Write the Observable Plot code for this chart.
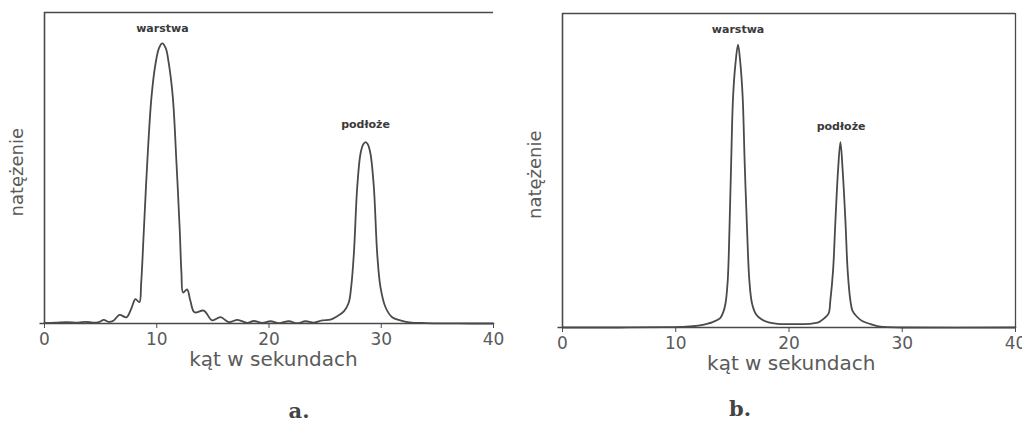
<!DOCTYPE html>
<html>
<head>
<meta charset="utf-8">
<script src="https://cdn.jsdelivr.net/npm/d3@7"></script>
<script src="https://cdn.jsdelivr.net/npm/@observablehq/plot@0.6"></script>
<style>
  html, body { margin: 0; padding: 0; background: #fff; }
  #wrap { position: relative; width: 1022px; height: 421px; overflow: hidden; background: #fff; }
  .cap { position: absolute; font-family: "DejaVu Serif", "Liberation Serif", serif; font-weight: bold; font-size: 21px; color: #444; transform: translate(-50%, -50%); }
</style>
</head>
<body>
<div id="wrap"></div>
<script>
// Panel a: angle (arc seconds) and intensity (arbitrary units, peak = 100)
const xA = [0, 1, 2, 3, 3.7, 4.3, 4.84, 5.28, 5.7, 6.17, 6.68, 7.3, 7.75, 8.1, 8.45, 8.61, 8.85, 9.15, 9.53, 9.89, 10.2, 10.49, 10.8, 11.07, 11.43, 11.76, 12.05, 12.2, 12.35, 12.7, 13.0, 13.36, 14.19, 14.94, 15.68, 16.42, 17.2, 18.06, 18.65, 19.4, 20.13, 20.87, 21.77, 22.5, 23.25, 24.0, 24.74, 25.48, 26.07, 26.67, 27.1, 27.32, 27.56, 27.86, 28.15, 28.4, 28.6, 28.8, 29.04, 29.34, 29.64, 29.93, 30.38, 30.97, 31.7, 32.5, 34, 36, 38, 40];
const yA = [0.2, 0.3, 0.5, 0.3, 0.6, 0.3, 0.5, 1.3, 0.6, 1.1, 3.1, 2.2, 5.5, 8.7, 7.6, 14.3, 33.2, 57.1, 80.8, 92.7, 98.3, 100, 98.3, 92.9, 80.8, 57.1, 33.2, 18, 11, 12.2, 8, 4.0, 4.6, 1.1, 2.25, 0.5, 1.3, 0.25, 0.9, 0.2, 0.8, 0.1, 0.8, 0.1, 0.8, 0.3, 1.1, 1.4, 2.6, 4.3, 7.4, 13, 24.9, 48.7, 60.6, 64, 64.75, 64, 60.6, 48.7, 24.9, 13, 5.8, 2.25, 1.1, 0.4, 0.15, 0.05, 0, 0];

// Panel b
const xB = [0, 5, 9, 10.9, 12, 12.77, 13.2, 13.9, 14.2, 14.39, 14.59, 14.74, 14.89, 15.06, 15.27, 15.5, 15.71, 15.91, 16.09, 16.3, 16.5, 16.74, 17.1, 17.6, 18.2, 19, 20, 21, 22, 22.6, 23.1, 23.5, 23.65, 23.89, 24.1, 24.33, 24.54, 24.74, 24.98, 25.18, 25.42, 25.6, 26.0, 26.5, 27.2, 27.9, 28.4, 30, 40];
const yB = [0, 0, 0.1, 0.3, 0.7, 1.3, 1.8, 3.2, 5.5, 8.4, 16.6, 34.3, 57.8, 81.4, 93.2, 100, 93.2, 81.4, 57.8, 34.3, 16.6, 8.4, 4.6, 2.8, 1.8, 1.3, 1.2, 1.2, 1.4, 1.8, 3.2, 5.0, 9.5, 20.1, 37.8, 55.5, 65.5, 55.5, 37.8, 20.1, 9.5, 6, 3.8, 2.2, 1.2, 0.4, 0.2, 0, 0];

const xTicks = [0, 10, 20, 30, 40];
const yLabel = "natężenie";
const xLabel = "kąt w sekundach";
const peakNames = ["warstwa", "podłoże"];
const peakPosA = [{x: 10.5, y: 105.4}, {x: 28.6, y: 71}];
const peakPosB = [{x: 15.5, y: 105.5}, {x: 24.6, y: 71.2}];
const captions = ["a.", "b."];

const ink = "#4a4a4a";
const txt = "#5a5a5a";

function panel(xs, ys, opts) {
  const data = xs.map((x, i) => ({x, y: ys[i]}));
  const labels = peakNames.map((t, i) => ({t, x: opts.peaks[i].x, y: opts.peaks[i].y}));
  const marks = [
    Plot.ruleY([0], {x1: -0.4, x2: 40, stroke: ink, strokeWidth: 1.6}),
    Plot.ruleX([0], {y1: 0, y2: 111, stroke: ink, strokeWidth: 1.6}),
    Plot.ruleY([111], {x1: 0, x2: 40, stroke: ink, strokeWidth: 1.3}),
    Plot.line(data, {x: "x", y: "y", curve: "catmull-rom", stroke: ink, strokeWidth: 1.8}),
    Plot.axisX({ticks: xTicks, tickSize: 5, tickPadding: 4, label: null, fontSize: 17, stroke: ink, fill: txt}),
    Plot.text(labels, {x: "x", y: "y", text: "t", fontSize: 11, fontWeight: "bold", fill: "#3a3a3a"}),
    Plot.text([xLabel], {x: opts.xl, y: 0, dy: 36, text: d => d, fontSize: 20, fill: txt, letterSpacing: "1px"}),
    Plot.text([yLabel], {x: opts.yl, y: 54, text: d => d, rotate: -90, fontSize: 18, fill: txt, letterSpacing: "1px"})
  ];
  if (opts.rightBorder) marks.splice(3, 0, Plot.ruleX([40], {y1: 0, y2: 111, stroke: ink, strokeWidth: 1.3}));
  return Plot.plot({
    width: opts.width, height: 380,
    marginLeft: opts.ml, marginRight: opts.mr, marginTop: opts.mt, marginBottom: opts.mb,
    x: {domain: [0, 40]},
    y: {domain: [0, 111], axis: null},
    style: {fontFamily: "DejaVu Sans, sans-serif", background: "transparent", overflow: "visible"},
    marks
  });
}

const wrap = document.getElementById("wrap");
const a = panel(xA, yA, {width: 510, ml: 44, mr: 17, mt: 12, mb: 57, peaks: peakPosA, xl: 20.4, yl: -2.4, rightBorder: false});
const b = panel(xB, yB, {width: 512, ml: 52, mr: 7, mt: 13, mb: 53, peaks: peakPosB, xl: 20.2, yl: -2.4, rightBorder: true});
a.style.position = "absolute"; a.style.left = "0px"; a.style.top = "0px";
b.style.position = "absolute"; b.style.left = "510px"; b.style.top = "0px";
wrap.appendChild(a);
wrap.appendChild(b);

[[captions[0], 299, 410], [captions[1], 740, 408]].forEach(([t, x, y]) => {
  const d = document.createElement("div");
  d.className = "cap";
  d.textContent = t;
  d.style.left = x + "px";
  d.style.top = y + "px";
  wrap.appendChild(d);
});
</script>
</body>
</html>
